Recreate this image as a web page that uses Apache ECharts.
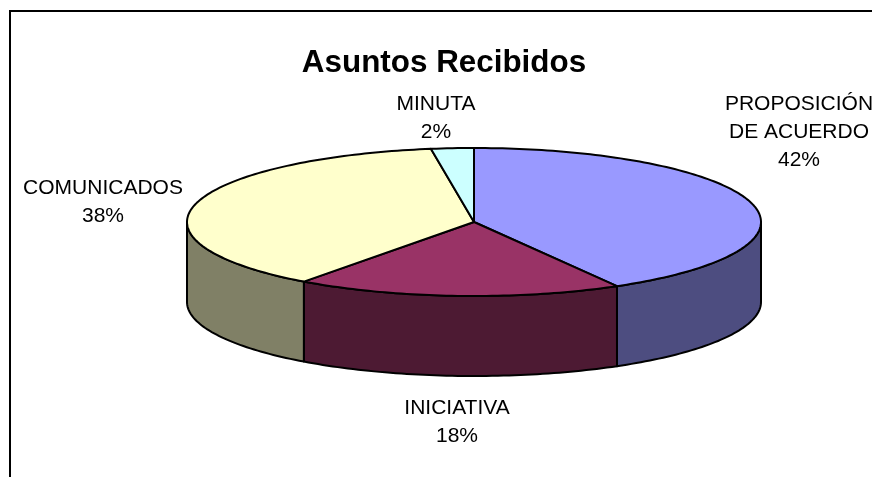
<!DOCTYPE html>
<html>
<head>
<meta charset="utf-8">
<title>Asuntos Recibidos</title>
<script src="https://cdn.jsdelivr.net/npm/echarts@6/dist/echarts.min.js"></script>
<style>
html,body{margin:0;padding:0;background:#fff;}
#main{width:872px;height:477px;}
</style>
</head>
<body>
<div id="main"></div>
<script>
// datos
var categorias = ['PROPOSICIÓN\nDE ACUERDO', 'INICIATIVA', 'COMUNICADOS', 'MINUTA'];
var valores = [41.7, 18.4, 37.5, 2.4];
var coloresTapa = ['#9999FF', '#993366', '#FFFFCC', '#CCFFFF'];
var coloresLado = ['#4D4D80', '#4D1A33', '#808066', '#668080'];

// centro de cada etiqueta
var posEtiquetas = [[799, 132], [457, 422], [103, 202], [436, 118]];

// geometria del pastel
var cx = 474, cy = 222, rx = 287, ry = 74, alto = 80;

var total = 0;
for (var k = 0; k < valores.length; k++) {
	total += valores[k];
}

function punto(t, dy) {
	return [cx + rx * Math.sin(t), cy - ry * Math.cos(t) + dy];
}

function arco(a, b, dy) {
	var pts = [];
	var n = Math.max(2, Math.ceil((b - a) / 0.02));
	for (var i = 0; i <= n; i++) {
		pts.push(punto(a + (b - a) * i / n, dy));
	}
	return pts;
}

function dibujarSector(params, api) {
	var i = params.dataIndex;
	var inicio = 0;
	for (var j = 0; j < i; j++) {
		inicio += valores[j];
	}
	var a = inicio / total * Math.PI * 2;
	var b = (inicio + api.value(0)) / total * Math.PI * 2;
	var borde = {stroke: '#000', lineWidth: 2, lineJoin: 'round'};
	var hijos = [];

	// lado visible: solo la parte frontal del pastel
	var a2 = Math.max(a, Math.PI / 2);
	var b2 = Math.min(b, Math.PI * 1.5);
	if (b2 > a2) {
		var lado = arco(a2, b2, 0).concat(arco(a2, b2, alto).reverse());
		hijos.push({
			type: 'polygon',
			z2: 1,
			shape: {points: lado},
			style: Object.assign({fill: coloresLado[i]}, borde)
		});
	}

	// tapa
	var tapa = [[cx, cy]].concat(arco(a, b, 0));
	hijos.push({
		type: 'polygon',
		z2: 2,
		shape: {points: tapa},
		style: Object.assign({fill: coloresTapa[i]}, borde)
	});

	// etiqueta
	hijos.push({
		type: 'text',
		z2: 3,
		x: posEtiquetas[i][0],
		y: posEtiquetas[i][1],
		style: {
			text: categorias[i] + '\n' + Math.round(api.value(0)) + '%',
			fill: '#000',
			font: '21px "Liberation Sans", Arial, sans-serif',
			lineHeight: 28,
			align: 'center',
			verticalAlign: 'middle'
		}
	});
	return {type: 'group', children: hijos};
}

var myChart = echarts.init(document.getElementById('main'));
var option = {
	animation: false,
	backgroundColor: '#fff',
	title: {
		text: 'Asuntos Recibidos',
		left: 439,
		top: 58,
		textAlign: 'center',
		textVerticalAlign: 'middle',
		textStyle: {
			color: '#000',
			fontFamily: '"Liberation Sans", Arial, sans-serif',
			fontWeight: 'bold',
			fontSize: 31.4
		}
	},
	graphic: [{
		type: 'rect',
		shape: {x: 10, y: 11, width: 900, height: 500},
		style: {fill: 'none', stroke: '#000', lineWidth: 2},
		z: -1
	}],
	series: [{
		type: 'custom',
		coordinateSystem: 'none',
		renderItem: dibujarSector,
		data: valores.map(function (v, i) {
			return {name: categorias[i], value: [v]};
		})
	}]
};
myChart.setOption(option);
</script>
</body>
</html>
